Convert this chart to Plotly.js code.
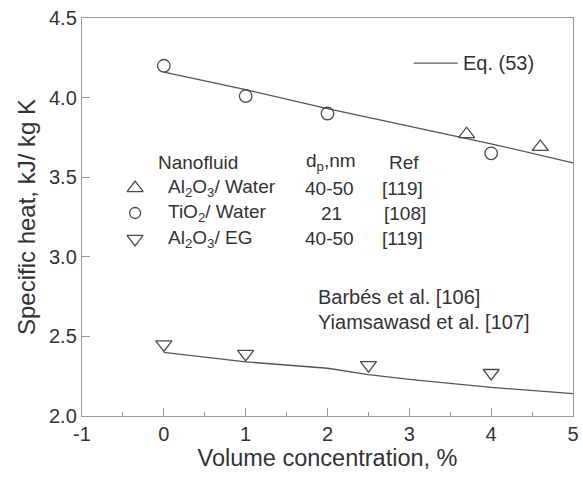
<!DOCTYPE html>
<html>
<head>
<meta charset="utf-8">
<script src="https://cdn.plot.ly/plotly-3.0.1.min.js"></script>
<style>html,body{margin:0;padding:0;background:#fff;}#chart{width:583px;height:478px;}</style>
</head>
<body>
<div id="chart"></div>
<script>
// Data
const tio2Water_x = [0, 1, 2, 4];
const tio2Water_y = [4.20, 4.01, 3.90, 3.65];
const al2o3Water_x = [3.7, 4.6];
const al2o3Water_y = [3.77, 3.69];
const al2o3EG_x = [0, 1, 2.5, 4];
const al2o3EG_y = [2.45, 2.39, 2.32, 2.27];
const eqWater_x = [0, 1, 2, 3, 4, 5];
const eqWater_y = [4.16, 4.05, 3.93, 3.82, 3.71, 3.59];
const eqEG_x = [0, 1, 2, 2.5, 3, 4, 5];
const eqEG_y = [2.40, 2.34, 2.30, 2.26, 2.23, 2.18, 2.14];
const xTicks = [-1, 0, 1, 2, 3, 4, 5];
const yTicks = [2.0, 2.5, 3.0, 3.5, 4.0, 4.5];
const legendRows = [
  {name: 'Al<sub>2</sub>O<sub>3</sub>/ Water', dp: '40-50', ref: '[119]', symbol: 'triangle-up-open'},
  {name: 'TiO<sub>2</sub>/ Water', dp: '21', ref: '[108]', symbol: 'circle-open'},
  {name: 'Al<sub>2</sub>O<sub>3</sub>/ EG', dp: '40-50', ref: '[119]', symbol: 'triangle-down-open'}
];
const eqLabel = 'Eq. (53)';

const FONT = 'Liberation Sans, Arial, sans-serif';
const TXT = '#333333';
const MK = '#4a4a4a';
const mk = (sym) => ({symbol: sym, size: sym === 'circle-open' ? 12.5 : 14, color: MK, line: {color: MK, width: 1.3}});

const traces = [
  {x: eqWater_x, y: eqWater_y, mode: 'lines', name: eqLabel, line: {color: '#555555', width: 1.3}, showlegend: false},
  {x: eqEG_x, y: eqEG_y, mode: 'lines', name: eqLabel, line: {color: '#555555', width: 1.3}, showlegend: false},
  {x: tio2Water_x, y: tio2Water_y, mode: 'markers', showlegend: false, marker: mk('circle-open')},
  {x: al2o3Water_x, y: al2o3Water_y, mode: 'markers', showlegend: false, marker: mk('triangle-up-open')},
  {x: al2o3EG_x, y: al2o3EG_y, mode: 'markers', showlegend: false, marker: mk('triangle-down-open')}
];

// legend table symbols (decoration)
const rowY = [3.432, 3.275, 3.112];
const symX = -0.351;
legendRows.forEach((r, i) => {
  const m = mk(r.symbol);
  if (r.symbol === 'circle-open') m.size = 11;
  traces.push({x: [symX], y: [rowY[i]], mode: 'markers', showlegend: false, hoverinfo: 'skip', marker: m});
});

const annotations = [];
const ann = (x, y, text, anchor, size) => annotations.push({x: x, y: y, xref: 'x', yref: 'y', text: text, showarrow: false,
  xanchor: anchor || 'left', yanchor: 'middle', font: {family: FONT, size: size || 19, color: TXT}});
ann(-0.094, 3.595, 'Nanofluid');
ann(1.718, 3.595, 'd<sub>p</sub>,nm');
ann(2.722, 3.595, 'Ref');
legendRows.forEach((r, i) => {
  ann(0.029, rowY[i], r.name);
  ann(i === 1 ? 2.047 : 2.02, rowY[i], r.dp, 'center');
  ann(i === 1 ? 2.943 : 2.914, rowY[i], r.ref, 'center');
});
ann(1.865, 2.747, 'Barbés et al. [106]', 'left', 20);
ann(1.865, 2.59, 'Yiamsawasd et al. [107]', 'left', 20);
ann(3.63, 4.217, eqLabel, 'left', 20);

const layout = {
  width: 583, height: 478,
  margin: {l: 82, r: 10, t: 18, b: 62},
  paper_bgcolor: '#fff', plot_bgcolor: '#fff',
  font: {family: FONT, color: TXT, size: 20},
  showlegend: false,
  xaxis: {range: [-1, 5], tickvals: xTicks, ticktext: xTicks.map(String), ticks: 'inside', ticklen: 8,
    tickcolor: '#999', showline: true, linecolor: '#999', linewidth: 1.2, mirror: true, showgrid: false, zeroline: false,
    minor: {dtick: 0.5, ticks: 'inside', ticklen: 4, tickcolor: '#999'},
    tickfont: {family: FONT, size: 20, color: TXT},
    title: {text: 'Volume concentration, %', font: {family: FONT, size: 23.5, color: TXT}, standoff: 4}},
  yaxis: {range: [2.0, 4.5], tickvals: yTicks, ticktext: yTicks.map(v => v.toFixed(1)), ticks: 'inside', ticklen: 8,
    tickcolor: '#999', showline: true, linecolor: '#999', linewidth: 1.2, mirror: true, showgrid: false, zeroline: false,
    tickfont: {family: FONT, size: 20, color: TXT},
    title: {text: 'Specific heat, kJ/ kg K', font: {family: FONT, size: 24, color: TXT}, standoff: 6}},
  shapes: [{type: 'line', xref: 'x', yref: 'y', x0: 3.053, x1: 3.592, y0: 4.217, y1: 4.217,
    line: {color: '#555555', width: 1.3}}],
  annotations: annotations
};

Plotly.newPlot('chart', traces, layout, {displayModeBar: false, staticPlot: true});
</script>
</body>
</html>
